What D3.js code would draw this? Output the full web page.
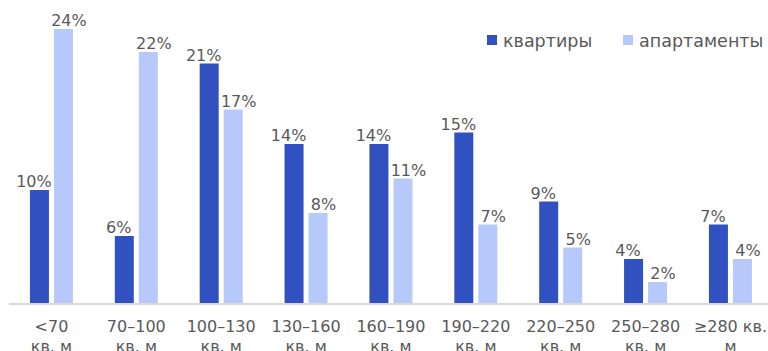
<!DOCTYPE html>
<html>
<head>
<meta charset="utf-8">
<script src="https://cdn.jsdelivr.net/npm/d3@7"></script>
<style>
  body { margin: 0; background: #fff; }
  text { font-family: "DejaVu Sans", Verdana, sans-serif; fill: #595959; }
</style>
</head>
<body>
<div id="content"></div>
<script>
var categories = ["<70 кв. м", "70–100 кв. м", "100–130 кв. м", "130–160 кв. м", "160–190 кв. м",
                  "190–220 кв. м", "220–250 кв. м", "250–280 кв. м", "≥280 кв. м"];
var catLines = [["<70", "кв. м"], ["70–100", "кв. м"], ["100–130", "кв. м"], ["130–160", "кв. м"],
                ["160–190", "кв. м"], ["190–220", "кв. м"], ["220–250", "кв. м"], ["250–280", "кв. м"],
                ["≥280 кв.", "м"]];
var flats = [10, 6, 21, 14, 14, 15, 9, 4, 7];
var apartments = [24, 22, 17, 8, 11, 7, 5, 2, 4];
var seriesNames = ["квартиры", "апартаменты"];
var colors = {"квартиры": "#3151c1", "апартаменты": "#b7c9fb"};
// labels sit a bit off the bar centre, outward
var labelShift = {"квартиры": -5.5, "апартаменты": 5.5};

var w = 768, h = 351;
var svg = d3.select("#content").append("svg")
          .attr("width", w)
          .attr("height", h);

var rows = categories.map(function(c, i) {
    return {cat: c, lines: catLines[i], values: [
        {key: "квартиры", v: flats[i]},
        {key: "апартаменты", v: apartments[i]}
    ]};
});

var x0 = d3.scaleBand()
           .domain(categories)
           .range([9, 9 + 9 * 84.875])
           .padding(0);

var x1 = d3.scaleBand()
           .domain(seriesNames)
           .range([x0.bandwidth() / 2 - 21.5, x0.bandwidth() / 2 + 21.5])
           .paddingInner(5 / 24)
           .paddingOuter(0);

var y = d3.scaleLinear()
          .domain([0, 26])
          .range([305, 6]);

var groups = svg.append("g")
    .selectAll("g")
    .data(rows)
    .enter()
    .append("g")
    .attr("transform", function(d) { return "translate(" + x0(d.cat) + ",0)"; });

groups.selectAll("rect")
    .data(function(d) { return d.values; })
    .enter()
    .append("rect")
    .attr("x", function(d) { return x1(d.key); })
    .attr("y", function(d) { return y(d.v); })
    .attr("width", x1.bandwidth())
    .attr("height", function(d) { return y(0) - y(d.v); })
    .attr("fill", function(d) { return colors[d.key]; });

groups.selectAll("text.val")
    .data(function(d) { return d.values; })
    .enter()
    .append("text")
    .attr("class", "val")
    .attr("x", function(d) { return x1(d.key) + x1.bandwidth() / 2 + labelShift[d.key]; })
    .attr("y", function(d) { return y(d.v) - 3; })
    .attr("text-anchor", "middle")
    .style("font-size", "16px")
    .text(function(d) { return d.v + "%"; });

// axis line
svg.append("line")
    .attr("x1", 9)
    .attr("x2", w)
    .attr("y1", y(0) - 1)
    .attr("y2", y(0) - 1)
    .attr("stroke", "#d9d9d9")
    .attr("stroke-width", 2);

// category labels
var labels = svg.append("g")
    .selectAll("text")
    .data(rows)
    .enter()
    .append("text")
    .attr("x", function(d) { return x0(d.cat) + x0.bandwidth() / 2; })
    .attr("y", 332)
    .attr("text-anchor", "middle")
    .style("font-size", "16px");

labels.selectAll("tspan")
    .data(function(d) { return d.lines; })
    .enter()
    .append("tspan")
    .attr("x", function() { return d3.select(this.parentNode).attr("x"); })
    .attr("dy", function(d, i) { return i === 0 ? 0 : 19.5; })
    .text(function(d) { return d; });

// legend
var legendX = [487, 623];
var legend = svg.append("g")
    .selectAll("g")
    .data(seriesNames)
    .enter()
    .append("g")
    .attr("transform", function(d, i) { return "translate(" + legendX[i] + ",35)"; });

legend.append("rect")
    .attr("width", 10)
    .attr("height", 10)
    .attr("fill", function(d) { return colors[d]; });

legend.append("text")
    .attr("x", 16)
    .attr("y", 11.5)
    .style("font-size", "17.5px")
    .text(function(d) { return d; });
</script>
</body>
</html>
